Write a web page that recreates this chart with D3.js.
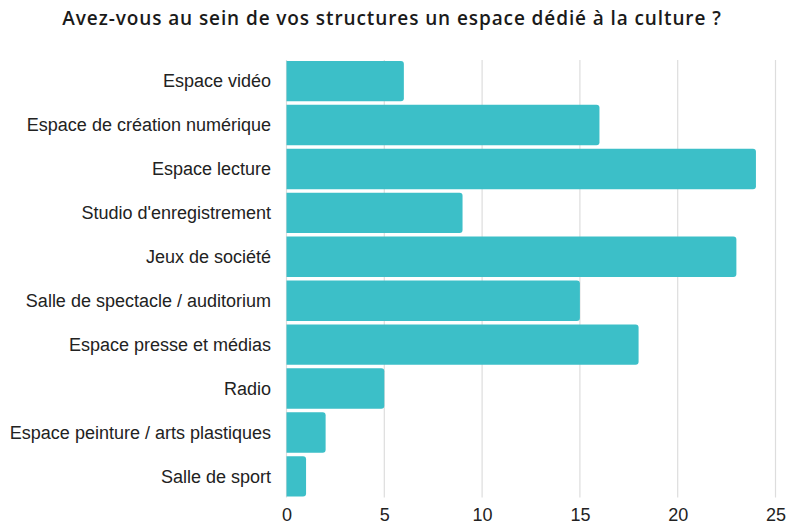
<!DOCTYPE html>
<html><head><meta charset="utf-8">
<script src="https://cdn.jsdelivr.net/npm/d3@7"></script>
<style>body{margin:0;background:#fff}svg{display:block}</style>
</head><body><svg id="c" width="787" height="526"></svg>
<script>
const title = "Avez-vous au sein de vos structures un espace dédié à la culture ?";
const categories = ["Espace vidéo","Espace de création numérique","Espace lecture","Studio d'enregistrement","Jeux de société","Salle de spectacle / auditorium","Espace presse et médias","Radio","Espace peinture / arts plastiques","Salle de sport"];
const values = [6,16,24,9,23,15,18,5,2,1];
const ticks = [0,5,10,15,20,25];

(function(){
const svg = d3.select("#c");
const mLeft = 286.5, mRight = 775.5, mTop = 60, mBottom = 497.5;
const x = d3.scaleLinear().domain([0,25]).range([mLeft,mRight]);
const y = d3.scaleBand().domain(categories).range([mTop,mBottom]).paddingInner(0.08).paddingOuter(0.02);

svg.append("text").attr("x",392).attr("y",25).attr("text-anchor","middle")
  .attr("font-family","Open Sans").attr("font-weight",600).attr("font-size",19)
  .attr("letter-spacing",0.9).attr("fill","#1a1a1a").text(title);

svg.append("g").selectAll("line").data(ticks).join("line")
  .attr("x1",d=>x(d)).attr("x2",d=>x(d)).attr("y1",mTop).attr("y2",mBottom)
  .attr("stroke","#dddddd").attr("stroke-width",1.2);

const r = 3;
svg.append("g").selectAll("path").data(values).join("path")
  .attr("fill","#3cbfc8")
  .attr("d",(d,i)=>{
    const x0=x(0), x1=x(d), y0=y(categories[i]), h=y.bandwidth();
    return `M${x0},${y0}H${x1-r}Q${x1},${y0} ${x1},${y0+r}V${y0+h-r}Q${x1},${y0+h} ${x1-r},${y0+h}H${x0}Z`;
  });

svg.append("g").selectAll("text").data(categories).join("text")
  .attr("x",271).attr("y",d=>y(d)+y.bandwidth()/2).attr("dy","0.35em")
  .attr("text-anchor","end").attr("font-family","Liberation Sans").attr("font-size",18).attr("fill","#222")
  .text(d=>d);

const ax = svg.append("g").attr("transform",`translate(0,${mBottom})`)
  .call(d3.axisBottom(x).tickValues(ticks).tickSize(0).tickPadding(11));
ax.select(".domain").remove();
ax.selectAll("text").attr("font-family","Liberation Sans").attr("font-size",18).attr("fill","#222");
})();
</script></body></html>
